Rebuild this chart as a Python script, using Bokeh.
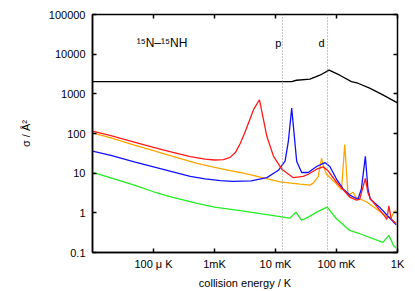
from bokeh.plotting import figure
from bokeh.models import LogAxis, FixedTicker, Span, Label
from bokeh.embed import file_html
from bokeh.resources import INLINE

# ---- data (collision energy in K, cross section in Å^2) ----
black_E = [1e-5, 0.0184, 0.0222, 0.0367, 0.0534, 0.0757, 0.1132, 0.1757, 0.225, 0.349, 0.575, 1.0]
black_S = [2030, 2030, 2200, 2350, 2950, 3950, 2950, 2030, 1850, 1390, 940, 590]

red_E = [1e-5, 2e-5, 5e-5, 1e-4, 2e-4, 4e-4, 7e-4, 1e-3, 1.4e-3, 1.8e-3, 2.2e-3, 2.64e-3, 3.1e-3,
         3.61e-3, 4.36e-3, 5.46e-3, 6.35e-3, 7.21e-3, 9.24e-3, 0.01267, 0.0196, 0.0285, 0.0344,
         0.0472, 0.0604, 0.073, 0.1, 0.1648, 0.2119, 0.24, 0.2972, 0.3275, 0.3582, 0.614, 0.669,
         0.722, 0.789, 0.952]
red_S = [114, 88, 60, 45, 34, 26, 22.5, 21.5, 22, 25, 33, 56, 100,
         185, 398, 708, 224, 85, 27, 12.6, 7.7, 8.3, 9.4,
         12.6, 14.4, 11.5, 5.9, 2.5, 2.1, 2.2, 7.4, 3.2, 2.3, 0.83, 0.68,
         1.5, 0.7, 0.53]

orange_E = [1e-5, 2e-5, 5e-5, 1e-4, 2e-4, 5e-4, 1e-3, 2e-3, 2.64e-3, 5e-3, 0.0119, 0.0252, 0.0367,
            0.0415, 0.0501, 0.0569, 0.0621, 0.0687, 0.1, 0.1207, 0.1365, 0.1545, 0.1866, 0.2065,
            0.3085, 0.654, 0.789, 0.869, 0.952]
orange_S = [104, 78, 50, 37, 27, 18, 14, 11.3, 10.4, 8.3, 6.0, 5.3, 5.0,
            5.6, 8.2, 23.7, 14, 9.4, 5.3, 3.8, 53, 2.8, 3.3, 2.5,
            1.9, 0.83, 0.74, 1.04, 1.14]

blue_E = [1e-5, 2e-5, 5e-5, 1e-4, 2e-4, 4e-4, 7e-4, 1.25e-3, 2e-3, 4e-3, 7.21e-3, 0.01115, 0.01435,
          0.01624, 0.01844, 0.0201, 0.02224, 0.02685, 0.0344, 0.0472, 0.0644, 0.0778, 0.1, 0.1282,
          0.1648, 0.225, 0.2557, 0.2972, 0.3275, 0.3582, 0.508, 0.695, 0.952]
blue_S = [36, 28, 19, 14.5, 11, 8.3, 7.2, 6.5, 6.2, 6.4, 7.7, 11.8, 20,
          63, 437, 105, 20, 10.4, 10.4, 14.7, 18.5, 14.7, 7.1, 4.0,
          2.8, 2.2, 4.0, 26.5, 4.0, 2.2, 1.39, 0.83, 0.5]

green_E = [1e-5, 2e-5, 5e-5, 1e-4, 2e-4, 5e-4, 1e-3, 2.64e-3, 0.0173, 0.02168, 0.02685, 0.0344,
           0.0472, 0.0703, 0.1, 0.1648, 0.225, 0.575, 0.722, 0.861, 0.952]
green_S = [10.4, 7.6, 4.9, 3.4, 2.5, 1.75, 1.4, 1.14, 0.74, 1.04, 0.65, 0.78,
           1.04, 1.39, 0.71, 0.36, 0.31, 0.18, 0.27, 0.15, 0.13]

x_ticks = [1e-4, 1e-3, 1e-2, 1e-1, 1.0]
x_tick_labels = ["100 \u03bc K", "1mK", "10 mK", "100 mK", "1K"]
y_ticks = [0.1, 1, 10, 100, 1000, 10000, 100000]
y_tick_labels = ["0.1", "1", "10", "100", "1000", "10000", "100000"]

p_wave_E = 0.0130
d_wave_E = 0.0713
title_E, title_S = 5.3e-5, 18800
pd_label_S = 18800

FONT = "Liberation Sans"

p = figure(width=415, height=291, x_axis_type="log", y_axis_type="log",
           x_range=(1e-5, 1.0), y_range=(0.1, 100000),
           output_backend="svg", toolbar_location=None,
           min_border_left=92, min_border_right=18, min_border_top=14, min_border_bottom=37)
p.background_fill_color = "white"
p.border_fill_color = "white"
p.outline_line_color = "black"
p.outline_line_width = 1.5
p.xgrid.visible = False
p.ygrid.visible = False

for ax, ticks, labels in ((p.xaxis[0], x_ticks, x_tick_labels), (p.yaxis[0], y_ticks, y_tick_labels)):
    ax.ticker = FixedTicker(ticks=ticks)
    ax.major_label_overrides = {t: l for t, l in zip(ticks, labels)}
    ax.major_tick_in = 4
    ax.major_tick_out = 0
    ax.minor_tick_line_color = None
    ax.axis_line_color = "black"
    ax.axis_line_width = 1.5
    ax.major_tick_line_width = 1.5
    ax.major_label_text_font = FONT
    ax.major_label_text_font_size = "11px"
    ax.major_label_text_color = "black"
    ax.axis_label_text_font = FONT
    ax.axis_label_text_font_size = "11px"
    ax.axis_label_text_font_style = "normal"
    ax.axis_label_text_color = "black"

p.xaxis.axis_label = "collision energy / K"
p.yaxis.axis_label = "\u03c3 / \u00c5\u00b2"
p.xaxis.major_label_standoff = 5
p.xaxis.axis_label_standoff = 4
p.yaxis.major_label_standoff = 7
p.yaxis.axis_label_standoff = 14

# mirrored ticks
r_ax = LogAxis(ticker=FixedTicker(ticks=y_ticks), major_label_text_font_size="1px",
               major_label_text_color=None,
               major_label_standoff=0, major_tick_in=4, major_tick_out=0,
               major_tick_line_width=1.5, minor_tick_line_color=None, axis_line_color=None)
t_ax = LogAxis(ticker=FixedTicker(ticks=x_ticks), major_label_text_font_size="1px",
               major_label_text_color=None,
               major_label_standoff=0, major_tick_in=4, major_tick_out=0,
               major_tick_line_width=1.5, minor_tick_line_color=None, axis_line_color=None)
p.add_layout(r_ax, "right")
p.add_layout(t_ax, "above")

# resonance markers
for e in (p_wave_E, d_wave_E):
    p.add_layout(Span(location=e, dimension="height", line_color="#888888",
                      line_dash="1 2", line_width=1))

lw = 1.3
p.line(black_E, black_S, line_color="black", line_width=lw)
p.line(orange_E, orange_S, line_color="#ffa500", line_width=lw)
p.line(green_E, green_S, line_color="#22ee22", line_width=lw)
p.line(blue_E, blue_S, line_color="#1010ff", line_width=lw)
p.line(red_E, red_S, line_color="#ff1a1a", line_width=lw)

p.add_layout(Label(x=p_wave_E, y=pd_label_S, text="p", text_align="right", x_offset=-1,
                   text_baseline="middle", text_font=FONT, text_font_size="11px", text_color="black"))
p.add_layout(Label(x=d_wave_E, y=pd_label_S, text="d", text_align="right", x_offset=-3,
                   text_baseline="middle", text_font=FONT, text_font_size="11px", text_color="black"))
p.add_layout(Label(x=title_E, y=title_S, text="\u00b9\u2075N\u2013\u00b9\u2075NH", text_align="left",
                   text_baseline="middle", text_font=FONT, text_font_size="12px", text_color="black"))

open("out.html", "w").write(file_html(p, INLINE))
